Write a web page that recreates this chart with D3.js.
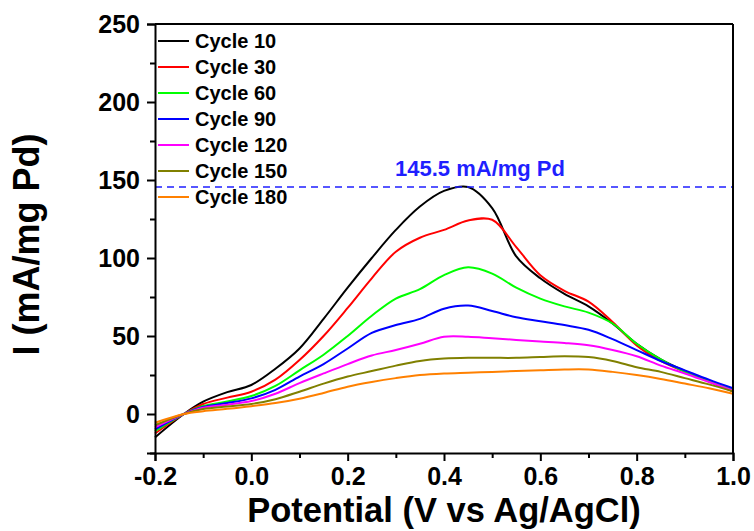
<!DOCTYPE html>
<html>
<head>
<meta charset="utf-8">
<script src="https://cdn.jsdelivr.net/npm/d3@7"></script>
<style>
  html, body { margin: 0; padding: 0; background: #fff; }
  svg { display: block; }
  text { font-family: "Liberation Sans", Arial, sans-serif; font-weight: bold; }
</style>
</head>
<body>
<svg id="chart" width="754" height="531"></svg>
<script>
// Anodic sweep potentials (V vs Ag/AgCl)
const potential = [-0.2, -0.14, -0.1, -0.05, 0, 0.05, 0.1, 0.15, 0.2, 0.25, 0.3, 0.35, 0.4,
                   0.45, 0.5, 0.55, 0.6, 0.65, 0.7, 0.75, 0.8, 0.85, 0.9, 0.95, 1.0];

// Mass activity (mA/mg Pd) for each recorded cycle
const cycle10  = [-15, 0, 7.9, 14, 18.6, 29, 42, 61, 81, 100, 118, 133, 143, 145.5, 132, 101, 87, 77, 69, 58, 45, 35, 27.5, 21, 14.5];
const cycle30  = [-12.5, 0, 6.4, 10.5, 14.3, 22, 34.6, 50, 68, 87, 104, 113, 118, 124, 124.5, 107, 89, 79, 72, 59, 44, 34, 27, 21, 14.5];
const cycle60  = [-11, 0, 5.1, 8, 11.5, 18, 28, 38, 50, 63, 74, 80, 89, 94, 90, 81, 74, 69, 65, 58, 45, 35, 27, 21, 15.5];
const cycle90  = [-9.8, 0, 4.5, 7, 10, 15.5, 24, 32, 42, 52, 57, 61, 67.5, 69.5, 66, 62, 59.5, 57, 54, 48, 41, 34, 28, 22, 16.5];
const cycle120 = [-8.5, 0, 4, 6, 8.3, 13, 19.8, 26, 32, 37.5, 41, 45, 49.5, 49.5, 48.5, 47.5, 46.5, 45.5, 44, 41, 37, 31, 26, 20.5, 15];
const cycle150 = [-7.2, 0, 3.2, 4.8, 6.4, 9.5, 14.3, 19.5, 24, 27.5, 31, 34, 35.5, 36, 36, 36, 36.5, 37, 36.5, 34, 30, 27, 23, 19, 14.5];
const cycle180 = [-5.6, 0, 1.8, 3.3, 5, 7, 9.8, 13.5, 17.5, 20.5, 23, 25, 26, 26.5, 27, 27.5, 28, 28.5, 28.5, 27, 25, 22.5, 19.5, 16.5, 13];

const seriesNames = ["Cycle 10", "Cycle 30", "Cycle 60", "Cycle 90", "Cycle 120", "Cycle 150", "Cycle 180"];
const seriesValues = [cycle10, cycle30, cycle60, cycle90, cycle120, cycle150, cycle180];
const seriesColors = ["#000000", "#ff0000", "#00ff00", "#0000ff", "#ff00ff", "#808000", "#ff8000"];

const xTicks = [-0.2, 0.0, 0.2, 0.4, 0.6, 0.8, 1.0];
const xMinorTicks = [-0.1, 0.1, 0.3, 0.5, 0.7, 0.9];
const yTicks = [0, 50, 100, 150, 200, 250];
const yMinorTicks = [-25, 25, 75, 125, 175, 225];

const peakValue = 145.5;
const peakLabel = "145.5 mA/mg Pd";
const xTitle = "Potential (V vs Ag/AgCl)";
const yTitle = "I (mA/mg Pd)";

const margin = { left: 155, right: 21, top: 24, bottom: 78 };
const W = 754, H = 531;
const svg = d3.select("#chart");

const x = d3.scaleLinear().domain([-0.2, 1.0]).range([margin.left, W - margin.right]);
const y = d3.scaleLinear().domain([-25, 250]).range([H - margin.bottom, margin.top]);

// Curves
const line = d3.line()
  .x((d, i) => x(potential[i]))
  .y(d => y(d))
  .curve(d3.curveCatmullRom.alpha(0.5));

const plot = svg.append("g");
seriesValues.forEach((vals, k) => {
  plot.append("path")
    .datum(vals)
    .attr("fill", "none")
    .attr("stroke", seriesColors[k])
    .attr("stroke-width", 2)
    .attr("stroke-linejoin", "round")
    .attr("d", line);
});

// Peak reference line
svg.append("line")
  .attr("x1", x(-0.2)).attr("x2", x(1.0))
  .attr("y1", y(peakValue)).attr("y2", y(peakValue))
  .attr("stroke", "#1f1fff").attr("stroke-width", 1.5)
  .attr("stroke-dasharray", "7,5");

svg.append("text")
  .attr("x", 480).attr("y", 176)
  .attr("text-anchor", "middle")
  .attr("fill", "#1f1fff")
  .attr("font-size", 22)
  .text(peakLabel);

// Frame
const frame = svg.append("g").attr("stroke", "#000").attr("stroke-width", 2);
frame.append("line").attr("x1", x(-0.2)).attr("x2", x(1.0)).attr("y1", y(250)).attr("y2", y(250));
frame.append("line").attr("x1", x(1.0)).attr("x2", x(1.0)).attr("y1", y(250)).attr("y2", y(-25));

// Axes
const fmtX = d => d3.format(".1f")(d).replace("\u2212", "-");
const xAxis = svg.append("g")
  .attr("transform", `translate(0,${y(-25)})`)
  .call(d3.axisBottom(x).tickValues(xTicks).tickFormat(fmtX).tickSize(8).tickPadding(6));
svg.append("g")
  .attr("transform", `translate(0,${y(-25)})`)
  .call(d3.axisBottom(x).tickValues(xMinorTicks).tickFormat("").tickSize(5))
  .call(g => g.select(".domain").remove());

const yAxis = svg.append("g")
  .attr("transform", `translate(${x(-0.2)},0)`)
  .call(d3.axisLeft(y).tickValues(yTicks).tickSize(8).tickPadding(7));
svg.append("g")
  .attr("transform", `translate(${x(-0.2)},0)`)
  .call(d3.axisLeft(y).tickValues(yMinorTicks).tickFormat("").tickSize(5))
  .call(g => g.select(".domain").remove());

svg.selectAll(".domain").attr("stroke-width", 2).attr("stroke", "#000");
svg.selectAll(".tick line").attr("stroke-width", 2).attr("stroke", "#000");
[xAxis, yAxis].forEach(ax => ax.selectAll(".tick text")
  .attr("font-size", 25).attr("fill", "#000")
  .style("font-family", "'Liberation Sans', Arial, sans-serif").style("font-weight", "bold"));

// Axis titles
svg.append("text")
  .attr("x", (x(-0.2) + x(1.0)) / 2).attr("y", 522)
  .attr("text-anchor", "middle")
  .attr("font-size", 34.5)
  .text(xTitle);

svg.append("text")
  .attr("transform", `translate(39,${(y(-25) + y(250)) / 2 + 6}) rotate(-90)`)
  .attr("text-anchor", "middle")
  .attr("font-size", 36)
  .text(yTitle);

// Legend
const legend = svg.append("g");
seriesNames.forEach((name, k) => {
  const ly = 41 + 26 * k;
  legend.append("line")
    .attr("x1", 158).attr("x2", 189).attr("y1", ly).attr("y2", ly)
    .attr("stroke", seriesColors[k]).attr("stroke-width", 2);
  legend.append("text")
    .attr("x", 195).attr("y", ly + 7)
    .attr("font-size", 20)
    .text(name);
});
</script>
</body>
</html>
